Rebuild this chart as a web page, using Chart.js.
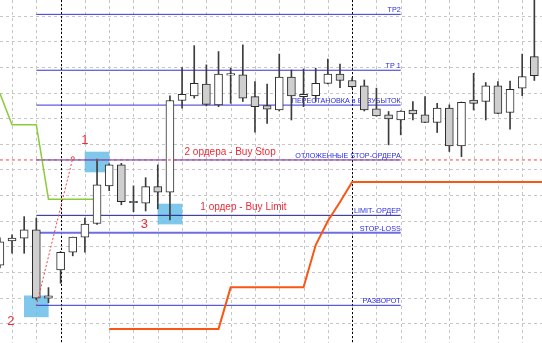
<!DOCTYPE html>
<html>
<head>
<meta charset="utf-8">
<script src="https://cdn.jsdelivr.net/npm/chart.js@4.4.0/dist/chart.umd.min.js"></script>
<style>
  html, body { margin: 0; padding: 0; background: #fff; }
  #wrap { width: 542px; height: 343px; }
</style>
</head>
<body>
<div id="wrap"><canvas id="chart"></canvas></div>
<script>
// bar numbers: first candle (-1) is cut by the left edge
const firstBar = -1;
const opens  = [22.7, 32.1, 33.2, 36.4, 9.8, 20.8, 27.7, 33.6, 38.9, 53.6, 61.8, 47.6, 46.8, 53.3, 51.1,
                86.9, 88.7, 93.3, 85.2, 96.8, 96.9, 88.4, 84.9, 83.2, 96.0, 88.4, 88.8, 93.6, 97.2, 94.7,
                92.6, 83.6, 81.3, 79.3, 83.2, 81.3, 78.3, 83.9, 69.2, 87.1, 86.5, 92.6, 82.2, 91.7, 104.0];
const highs  = [33.3, 34.5, 41.6, 41.0, 13.9, 28.0, 33.6, 41.0, 64.0, 62.2, 62.4, 53.6, 56.8, 61.8, 88.7,
                99.7, 108.3, 100.8, 106.0, 99.5, 108.6, 94.3, 93.3, 105.0, 98.8, 99.2, 99.5, 103.1, 101.1, 95.7,
                94.9, 91.7, 82.6, 82.9, 86.5, 88.4, 85.8, 85.2, 86.3, 97.5, 93.9, 94.3, 94.5, 105.0, 130.0];
const lows   = [21.6, 27.3, 27.3, 9.1, 8.0, 15.6, 26.3, 27.7, 38.6, 51.7, 46.2, 43.5, 43.8, 44.6, 40.3,
                83.9, 87.8, 84.8, 84.5, 85.8, 86.5, 74.5, 78.0, 82.8, 79.3, 84.5, 86.5, 93.4, 91.9, 91.8,
                82.8, 80.8, 69.6, 73.5, 79.3, 78.2, 74.4, 67.0, 65.0, 83.2, 79.3, 81.8, 75.7, 88.8, 94.7];
const closes = [31.8, 33.2, 36.4, 9.8, 10.7, 27.7, 33.6, 38.7, 54.0, 61.8, 47.4, 47.0, 53.3, 51.1, 86.9,
                89.3, 93.6, 85.4, 97.2, 97.4, 87.8, 84.5, 83.5, 96.0, 88.7, 89.3, 93.6, 97.2, 94.7, 92.3,
                83.2, 80.9, 79.7, 82.8, 81.7, 78.3, 83.9, 69.2, 86.2, 85.8, 92.6, 81.9, 91.3, 96.2, 96.6];

// horizontal order levels, drawn from bar 2 to bar 32
const levelNames  = ['TP2', 'TP 1', 'ПЕРЕСТАНОВКА в БЕЗУБЫТОК', 'ОТЛОЖЕННЫЕ STOP-ОРДЕРА', 'LIMIT- ОРДЕР', 'STOP-LOSS', 'РАЗВОРОТ'];
const levelPrices = [120.5, 98.7, 85.1, 63.7, 42.1, 35.3, 7.0];
const levelFrom = 2;
const levelTo = 32;

// indicator lines
const greenBars    = [-1, 0, 2, 3, 7];
const greenValues  = [89.7, 77.4, 77.4, 48.4, 48.4];
const orangeBars   = [8, 17, 18, 24, 25, 26, 27, 28, 44];
const orangeValues = [-2.2, -2.2, 14.0, 14.0, 30.5, 39.9, 47.3, 55.1, 55.1];

// projection from point 2 to point 1
const projBars   = [2, 5];
const projValues = [6.8, 64.4];

// highlighted zones
const zoneBars = [7, 2, 13];
const zoneLow  = [59.0, 2.5, 38.7];
const zoneHigh = [66.8, 10.7, 46.5];

// notes
const noteTexts  = ['1', '2', '3', '2 ордера - Buy Stop', '1 ордер - Buy Limit'];
const noteBars   = [6.0, -0.1, 10.9, 14.2, 15.5];
const noteValues = [71.2, 0.8, 38.4, 66.6, 45.1];

// grid and period separators
const xGridBars = [0, 2, 4, 6, 8, 10, 12, 14, 16, 18, 20, 22, 24, 26, 28, 30, 32, 34, 36, 38, 40, 42];
const yGridPrices = [0, 10, 20, 30, 40, 50, 60, 70, 80, 90, 100, 110, 120];
const separatorBars = [4, 28];

const bars = opens.map((o, k) => firstBar + k);

const levelColors = ['#3434d4', '#3434d4', '#3434d4', '#3434d4', '#1e1e8a', '#6e6ee2', '#3434d4'];
const levelWidths = [1, 1, 1, 1, 1, 2, 1];

let datasets = [];

// zones
datasets.push({
  type: 'bar',
  data: zoneBars.map((b, k) => ({ x: b, y: [zoneLow[k], zoneHigh[k]] })),
  backgroundColor: 'rgba(104,190,232,0.85)',
  borderWidth: 0,
  barThickness: 24,
  grouped: false,
  order: 6
});

// levels
levelPrices.forEach((p, k) => {
  datasets.push({
    type: 'line',
    data: [{ x: levelFrom, y: p }, { x: levelTo, y: p }],
    borderColor: levelColors[k],
    borderWidth: levelWidths[k],
    pointRadius: 0,
    order: 5
  });
});

// green and orange lines
datasets.push({
  type: 'line',
  data: greenBars.map((b, k) => ({ x: b, y: greenValues[k] })),
  borderColor: '#8ccc3c',
  borderWidth: 1.5,
  pointRadius: 0,
  order: 4
});
datasets.push({
  type: 'line',
  data: orangeBars.map((b, k) => ({ x: b, y: orangeValues[k] })),
  borderColor: '#fa5614',
  borderWidth: 2,
  pointRadius: 0,
  order: 4
});

// wicks
datasets.push({
  type: 'bar',
  data: bars.map((b, k) => ({ x: b, y: [lows[k], highs[k]] })),
  backgroundColor: '#3c3c3c',
  borderWidth: 0,
  barThickness: 1,
  grouped: false,
  order: 3
});

// bodies
datasets.push({
  type: 'bar',
  data: bars.map((b, k) => ({ x: b, y: [opens[k], closes[k]] })),
  backgroundColor: bars.map((b, k) => closes[k] >= opens[k] ? '#ffffff' : '#cfcfcf'),
  borderColor: '#2a2a2a',
  borderWidth: 1,
  borderSkipped: false,
  barThickness: 8,
  grouped: false,
  order: 2
});

// pending stop orders: red dotted over the whole chart
datasets.push({
  type: 'line',
  data: [{ x: firstBar, y: levelPrices[3] }, { x: 44, y: levelPrices[3] }],
  borderColor: '#f04040',
  borderWidth: 1,
  borderDash: [3, 3],
  pointRadius: 0,
  order: 1
});
datasets.push({
  type: 'line',
  data: projBars.map((b, k) => ({ x: b, y: projValues[k] })),
  borderColor: '#f04040',
  borderWidth: 1,
  borderDash: [2, 2],
  pointRadius: [0, 1.5],
  pointBorderColor: '#f04040',
  pointBackgroundColor: '#ffffff',
  order: 1
});

const overlay = {
  id: 'overlay',
  beforeDatasetsDraw(chart) {
    const { ctx, chartArea } = chart;
    const x = chart.scales.x, y = chart.scales.y;
    ctx.save();

    // dashed grid
    ctx.strokeStyle = '#c6c6c6';
    ctx.lineWidth = 1;
    ctx.setLineDash([3, 3]);
    xGridBars.forEach(b => {
      const px = Math.round(x.getPixelForValue(b)) + 0.5;
      ctx.beginPath();
      ctx.moveTo(px, chartArea.top);
      ctx.lineTo(px, chartArea.bottom);
      ctx.stroke();
    });
    yGridPrices.forEach(p => {
      const py = Math.round(y.getPixelForValue(p)) + 0.5;
      ctx.beginPath();
      ctx.moveTo(chartArea.left, py);
      ctx.lineTo(chartArea.right, py);
      ctx.stroke();
    });

    // period separators
    ctx.strokeStyle = '#000';
    ctx.setLineDash([2, 2]);
    separatorBars.forEach(b => {
      const px = Math.round(x.getPixelForValue(b)) + 0.5;
      ctx.beginPath();
      ctx.moveTo(px, chartArea.top);
      ctx.lineTo(px, chartArea.bottom);
      ctx.stroke();
    });
    ctx.setLineDash([]);

    // level captions
    ctx.font = '7.2px "Liberation Sans", Arial, sans-serif';
    ctx.fillStyle = '#2a2ae0';
    ctx.textAlign = 'right';
    ctx.textBaseline = 'alphabetic';
    const right = x.getPixelForValue(levelTo);
    levelNames.forEach((name, k) => {
      ctx.fillText(name, right, y.getPixelForValue(levelPrices[k]) - 2);
    });

    // red notes
    ctx.fillStyle = '#ea2d3a';
    ctx.textBaseline = 'middle';
    noteTexts.forEach((t, k) => {
      if (t.length == 1) {
        ctx.font = '13px "Liberation Sans", Arial, sans-serif';
        ctx.textAlign = 'center';
      } else {
        ctx.font = '10px "Liberation Sans", Arial, sans-serif';
        ctx.textAlign = 'left';
      }
      ctx.fillText(t, x.getPixelForValue(noteBars[k]), y.getPixelForValue(noteValues[k]));
    });
    ctx.restore();
  }
};

new Chart(document.getElementById('chart'), {
  type: 'bar',
  data: { datasets: datasets },
  options: {
    responsive: true,
    maintainAspectRatio: false,
    animation: false,
    layout: { padding: 0, autoPadding: false },
    plugins: { legend: { display: false }, tooltip: { enabled: false } },
    scales: {
      x: { type: 'linear', display: false, min: -0.99, max: 43.63, offset: false },
      y: { type: 'linear', display: false, min: -7.7, max: 126.1, beginAtZero: false }
    }
  },
  plugins: [overlay]
});
</script>
</body>
</html>
